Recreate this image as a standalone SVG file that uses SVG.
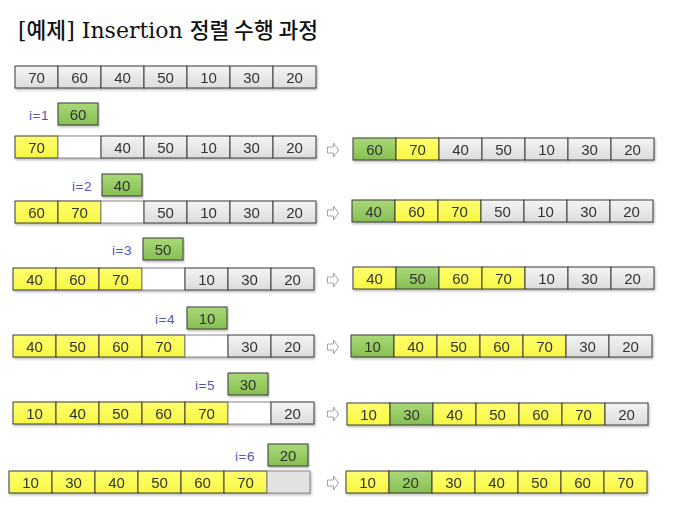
<svg xmlns="http://www.w3.org/2000/svg" width="675" height="505" viewBox="0 0 675 505">
<defs>
<linearGradient id="gGrey" x1="0" y1="0" x2="0" y2="1"><stop offset="0" stop-color="#f4f4f4"/><stop offset="1" stop-color="#dcdcdc"/></linearGradient>
<linearGradient id="gYel" x1="0" y1="0" x2="0" y2="1"><stop offset="0" stop-color="#ffff6e"/><stop offset="1" stop-color="#f7f744"/></linearGradient>
<linearGradient id="gGrn" x1="0" y1="0" x2="0" y2="1"><stop offset="0" stop-color="#a9d977"/><stop offset="1" stop-color="#86be52"/></linearGradient>
<filter id="sh" x="-5%" y="-20%" width="110%" height="150%"><feDropShadow dx="1" dy="1.5" stdDeviation="0.8" flood-color="#777" flood-opacity="0.55"/></filter>
</defs>
<style>
.row rect{stroke:#3c3c3c;stroke-width:1}
.bg{fill:#fff;stroke:none}
.row .cg{fill:url(#gGrey)}
.row .cy{fill:url(#gYel)}
.row .cn{fill:url(#gGrn)}
.row .cw{fill:#ffffff;stroke:#8a8a8a}
.row .ce{fill:#e2e2e2;stroke:#8a8a8a}
.row{filter:url(#sh)}
text{font-family:"Liberation Sans",Arial,sans-serif;font-size:15px;fill:#333;text-anchor:middle}
.lab{font-size:13.5px;fill:#5555b8;text-anchor:end;letter-spacing:0.5px}
.title{font-family:"DejaVu Serif","Noto Sans CJK KR",serif;font-size:22px;fill:#111;text-anchor:start}
.ko{font-family:"Noto Sans CJK KR",sans-serif;font-weight:500;font-size:21.5px}
.arr{fill:#fff;stroke:#9aa3bd;stroke-width:1}
</style>
<rect class="bg" width="675" height="505"/>
<text class="title" x="18" y="38">[<tspan class="ko">예제</tspan>] Insertion <tspan class="ko">정렬 수행 과정</tspan></text>

<g id="row0" class="row">
<g id="r0c0"><rect class="cg" x="15" y="66" width="43" height="22"/><text x="36.5" y="82.5">70</text></g>
<g id="r0c1"><rect class="cg" x="58" y="66" width="43" height="22"/><text x="79.5" y="82.5">60</text></g>
<g id="r0c2"><rect class="cg" x="101" y="66" width="43" height="22"/><text x="122.5" y="82.5">40</text></g>
<g id="r0c3"><rect class="cg" x="144" y="66" width="43" height="22"/><text x="165.5" y="82.5">50</text></g>
<g id="r0c4"><rect class="cg" x="187" y="66" width="43" height="22"/><text x="208.5" y="82.5">10</text></g>
<g id="r0c5"><rect class="cg" x="230" y="66" width="43" height="22"/><text x="251.5" y="82.5">30</text></g>
<g id="r0c6"><rect class="cg" x="273" y="66" width="43" height="22"/><text x="294.5" y="82.5">20</text></g>
</g>

<!-- i=1 -->
<text class="lab" x="49" y="120">i=1</text>
<g id="key1" class="row"><rect class="cn" x="58" y="103" width="40" height="22"/><text x="78" y="119.5">60</text></g>
<g id="row1L" class="row">
<g id="r1Lc0"><rect class="cy" x="15" y="136" width="43" height="22"/><text x="36.5" y="152.5">70</text></g>
<g id="r1Lc1"><rect class="cw" x="58" y="136" width="43" height="22"/></g>
<g id="r1Lc2"><rect class="cg" x="101" y="136" width="43" height="22"/><text x="122.5" y="152.5">40</text></g>
<g id="r1Lc3"><rect class="cg" x="144" y="136" width="43" height="22"/><text x="165.5" y="152.5">50</text></g>
<g id="r1Lc4"><rect class="cg" x="187" y="136" width="43" height="22"/><text x="208.5" y="152.5">10</text></g>
<g id="r1Lc5"><rect class="cg" x="230" y="136" width="43" height="22"/><text x="251.5" y="152.5">30</text></g>
<g id="r1Lc6"><rect class="cg" x="273" y="136" width="43" height="22"/><text x="294.5" y="152.5">20</text></g>
</g>
<g id="row1R" class="row">
<g id="r1Rc0"><rect class="cn" x="353" y="138" width="43" height="22"/><text x="374.5" y="154.5">60</text></g>
<g id="r1Rc1"><rect class="cy" x="396" y="138" width="43" height="22"/><text x="417.5" y="154.5">70</text></g>
<g id="r1Rc2"><rect class="cg" x="439" y="138" width="43" height="22"/><text x="460.5" y="154.5">40</text></g>
<g id="r1Rc3"><rect class="cg" x="482" y="138" width="43" height="22"/><text x="503.5" y="154.5">50</text></g>
<g id="r1Rc4"><rect class="cg" x="525" y="138" width="43" height="22"/><text x="546.5" y="154.5">10</text></g>
<g id="r1Rc5"><rect class="cg" x="568" y="138" width="43" height="22"/><text x="589.5" y="154.5">30</text></g>
<g id="r1Rc6"><rect class="cg" x="611" y="138" width="43" height="22"/><text x="632.5" y="154.5">20</text></g>
</g>

<!-- i=2 -->
<text class="lab" x="92" y="191">i=2</text>
<g id="key2" class="row"><rect class="cn" x="102" y="174" width="40" height="22"/><text x="122" y="190.5">40</text></g>
<g id="row2L" class="row">
<g id="r2Lc0"><rect class="cy" x="15" y="201" width="43" height="22"/><text x="36.5" y="217.5">60</text></g>
<g id="r2Lc1"><rect class="cy" x="58" y="201" width="43" height="22"/><text x="79.5" y="217.5">70</text></g>
<g id="r2Lc2"><rect class="cw" x="101" y="201" width="43" height="22"/></g>
<g id="r2Lc3"><rect class="cg" x="144" y="201" width="43" height="22"/><text x="165.5" y="217.5">50</text></g>
<g id="r2Lc4"><rect class="cg" x="187" y="201" width="43" height="22"/><text x="208.5" y="217.5">10</text></g>
<g id="r2Lc5"><rect class="cg" x="230" y="201" width="43" height="22"/><text x="251.5" y="217.5">30</text></g>
<g id="r2Lc6"><rect class="cg" x="273" y="201" width="43" height="22"/><text x="294.5" y="217.5">20</text></g>
</g>
<g id="row2R" class="row">
<g id="r2Rc0"><rect class="cn" x="352" y="200" width="43" height="22"/><text x="373.5" y="216.5">40</text></g>
<g id="r2Rc1"><rect class="cy" x="395" y="200" width="43" height="22"/><text x="416.5" y="216.5">60</text></g>
<g id="r2Rc2"><rect class="cy" x="438" y="200" width="43" height="22"/><text x="459.5" y="216.5">70</text></g>
<g id="r2Rc3"><rect class="cg" x="481" y="200" width="43" height="22"/><text x="502.5" y="216.5">50</text></g>
<g id="r2Rc4"><rect class="cg" x="524" y="200" width="43" height="22"/><text x="545.5" y="216.5">10</text></g>
<g id="r2Rc5"><rect class="cg" x="567" y="200" width="43" height="22"/><text x="588.5" y="216.5">30</text></g>
<g id="r2Rc6"><rect class="cg" x="610" y="200" width="43" height="22"/><text x="631.5" y="216.5">20</text></g>
</g>

<!-- i=3 -->
<text class="lab" x="132" y="255">i=3</text>
<g id="key3" class="row"><rect class="cn" x="143" y="238" width="40" height="22"/><text x="163" y="254.5">50</text></g>
<g id="row3L" class="row">
<g id="r3Lc0"><rect class="cy" x="13" y="268" width="43" height="22"/><text x="34.5" y="284.5">40</text></g>
<g id="r3Lc1"><rect class="cy" x="56" y="268" width="43" height="22"/><text x="77.5" y="284.5">60</text></g>
<g id="r3Lc2"><rect class="cy" x="99" y="268" width="43" height="22"/><text x="120.5" y="284.5">70</text></g>
<g id="r3Lc3"><rect class="cw" x="142" y="268" width="43" height="22"/></g>
<g id="r3Lc4"><rect class="cg" x="185" y="268" width="43" height="22"/><text x="206.5" y="284.5">10</text></g>
<g id="r3Lc5"><rect class="cg" x="228" y="268" width="43" height="22"/><text x="249.5" y="284.5">30</text></g>
<g id="r3Lc6"><rect class="cg" x="271" y="268" width="43" height="22"/><text x="292.5" y="284.5">20</text></g>
</g>
<g id="row3R" class="row">
<g id="r3Rc0"><rect class="cy" x="353" y="267" width="43" height="22"/><text x="374.5" y="283.5">40</text></g>
<g id="r3Rc1"><rect class="cn" x="396" y="267" width="43" height="22"/><text x="417.5" y="283.5">50</text></g>
<g id="r3Rc2"><rect class="cy" x="439" y="267" width="43" height="22"/><text x="460.5" y="283.5">60</text></g>
<g id="r3Rc3"><rect class="cy" x="482" y="267" width="43" height="22"/><text x="503.5" y="283.5">70</text></g>
<g id="r3Rc4"><rect class="cg" x="525" y="267" width="43" height="22"/><text x="546.5" y="283.5">10</text></g>
<g id="r3Rc5"><rect class="cg" x="568" y="267" width="43" height="22"/><text x="589.5" y="283.5">30</text></g>
<g id="r3Rc6"><rect class="cg" x="611" y="267" width="43" height="22"/><text x="632.5" y="283.5">20</text></g>
</g>

<!-- i=4 -->
<text class="lab" x="175" y="324">i=4</text>
<g id="key4" class="row"><rect class="cn" x="187" y="307" width="40" height="22"/><text x="207" y="323.5">10</text></g>
<g id="row4L" class="row">
<g id="r4Lc0"><rect class="cy" x="13" y="335" width="43" height="22"/><text x="34.5" y="351.5">40</text></g>
<g id="r4Lc1"><rect class="cy" x="56" y="335" width="43" height="22"/><text x="77.5" y="351.5">50</text></g>
<g id="r4Lc2"><rect class="cy" x="99" y="335" width="43" height="22"/><text x="120.5" y="351.5">60</text></g>
<g id="r4Lc3"><rect class="cy" x="142" y="335" width="43" height="22"/><text x="163.5" y="351.5">70</text></g>
<g id="r4Lc4"><rect class="cw" x="185" y="335" width="43" height="22"/></g>
<g id="r4Lc5"><rect class="cg" x="228" y="335" width="43" height="22"/><text x="249.5" y="351.5">30</text></g>
<g id="r4Lc6"><rect class="cg" x="271" y="335" width="43" height="22"/><text x="292.5" y="351.5">20</text></g>
</g>
<g id="row4R" class="row">
<g id="r4Rc0"><rect class="cn" x="351" y="335" width="43" height="22"/><text x="372.5" y="351.5">10</text></g>
<g id="r4Rc1"><rect class="cy" x="394" y="335" width="43" height="22"/><text x="415.5" y="351.5">40</text></g>
<g id="r4Rc2"><rect class="cy" x="437" y="335" width="43" height="22"/><text x="458.5" y="351.5">50</text></g>
<g id="r4Rc3"><rect class="cy" x="480" y="335" width="43" height="22"/><text x="501.5" y="351.5">60</text></g>
<g id="r4Rc4"><rect class="cy" x="523" y="335" width="43" height="22"/><text x="544.5" y="351.5">70</text></g>
<g id="r4Rc5"><rect class="cg" x="566" y="335" width="43" height="22"/><text x="587.5" y="351.5">30</text></g>
<g id="r4Rc6"><rect class="cg" x="609" y="335" width="43" height="22"/><text x="630.5" y="351.5">20</text></g>
</g>

<!-- i=5 -->
<text class="lab" x="215" y="390">i=5</text>
<g id="key5" class="row"><rect class="cn" x="228" y="373" width="40" height="22"/><text x="248" y="389.5">30</text></g>
<g id="row5L" class="row">
<g id="r5Lc0"><rect class="cy" x="13" y="402" width="43" height="22"/><text x="34.5" y="418.5">10</text></g>
<g id="r5Lc1"><rect class="cy" x="56" y="402" width="43" height="22"/><text x="77.5" y="418.5">40</text></g>
<g id="r5Lc2"><rect class="cy" x="99" y="402" width="43" height="22"/><text x="120.5" y="418.5">50</text></g>
<g id="r5Lc3"><rect class="cy" x="142" y="402" width="43" height="22"/><text x="163.5" y="418.5">60</text></g>
<g id="r5Lc4"><rect class="cy" x="185" y="402" width="43" height="22"/><text x="206.5" y="418.5">70</text></g>
<g id="r5Lc5"><rect class="cw" x="228" y="402" width="43" height="22"/></g>
<g id="r5Lc6"><rect class="cg" x="271" y="402" width="43" height="22"/><text x="292.5" y="418.5">20</text></g>
</g>
<g id="row5R" class="row">
<g id="r5Rc0"><rect class="cy" x="347" y="403" width="43" height="22"/><text x="368.5" y="419.5">10</text></g>
<g id="r5Rc1"><rect class="cn" x="390" y="403" width="43" height="22"/><text x="411.5" y="419.5">30</text></g>
<g id="r5Rc2"><rect class="cy" x="433" y="403" width="43" height="22"/><text x="454.5" y="419.5">40</text></g>
<g id="r5Rc3"><rect class="cy" x="476" y="403" width="43" height="22"/><text x="497.5" y="419.5">50</text></g>
<g id="r5Rc4"><rect class="cy" x="519" y="403" width="43" height="22"/><text x="540.5" y="419.5">60</text></g>
<g id="r5Rc5"><rect class="cy" x="562" y="403" width="43" height="22"/><text x="583.5" y="419.5">70</text></g>
<g id="r5Rc6"><rect class="cg" x="605" y="403" width="43" height="22"/><text x="626.5" y="419.5">20</text></g>
</g>

<!-- i=6 -->
<text class="lab" x="255" y="461">i=6</text>
<g id="key6" class="row"><rect class="cn" x="268" y="444" width="40" height="22"/><text x="288" y="460.5">20</text></g>
<g id="row6L" class="row">
<g id="r6Lc0"><rect class="cy" x="9" y="471" width="43" height="22"/><text x="30.5" y="487.5">10</text></g>
<g id="r6Lc1"><rect class="cy" x="52" y="471" width="43" height="22"/><text x="73.5" y="487.5">30</text></g>
<g id="r6Lc2"><rect class="cy" x="95" y="471" width="43" height="22"/><text x="116.5" y="487.5">40</text></g>
<g id="r6Lc3"><rect class="cy" x="138" y="471" width="43" height="22"/><text x="159.5" y="487.5">50</text></g>
<g id="r6Lc4"><rect class="cy" x="181" y="471" width="43" height="22"/><text x="202.5" y="487.5">60</text></g>
<g id="r6Lc5"><rect class="cy" x="224" y="471" width="43" height="22"/><text x="245.5" y="487.5">70</text></g>
<g id="r6Lc6"><rect class="ce" x="267" y="471" width="43" height="22"/></g>
</g>
<g id="row6R" class="row">
<g id="r6Rc0"><rect class="cy" x="346" y="471" width="43" height="22"/><text x="367.5" y="487.5">10</text></g>
<g id="r6Rc1"><rect class="cn" x="389" y="471" width="43" height="22"/><text x="410.5" y="487.5">20</text></g>
<g id="r6Rc2"><rect class="cy" x="432" y="471" width="43" height="22"/><text x="453.5" y="487.5">30</text></g>
<g id="r6Rc3"><rect class="cy" x="475" y="471" width="43" height="22"/><text x="496.5" y="487.5">40</text></g>
<g id="r6Rc4"><rect class="cy" x="518" y="471" width="43" height="22"/><text x="539.5" y="487.5">50</text></g>
<g id="r6Rc5"><rect class="cy" x="561" y="471" width="43" height="22"/><text x="582.5" y="487.5">60</text></g>
<g id="r6Rc6"><rect class="cy" x="604" y="471" width="43" height="22"/><text x="625.5" y="487.5">70</text></g>
</g>

<g id="connectors">
<path class="arr" d="M327.5,147 h6 v-4 l5,7 l-5,7 v-4 h-6 z"/>
<path class="arr" d="M327.5,210 h6 v-4 l5,7 l-5,7 v-4 h-6 z"/>
<path class="arr" d="M327.5,277 h6 v-4 l5,7 l-5,7 v-4 h-6 z"/>
<path class="arr" d="M327.5,344 h6 v-4 l5,7 l-5,7 v-4 h-6 z"/>
<path class="arr" d="M327.5,411 h6 v-4 l5,7 l-5,7 v-4 h-6 z"/>
<path class="arr" d="M327.5,480 h6 v-4 l5,7 l-5,7 v-4 h-6 z"/>
</g>
</svg>
